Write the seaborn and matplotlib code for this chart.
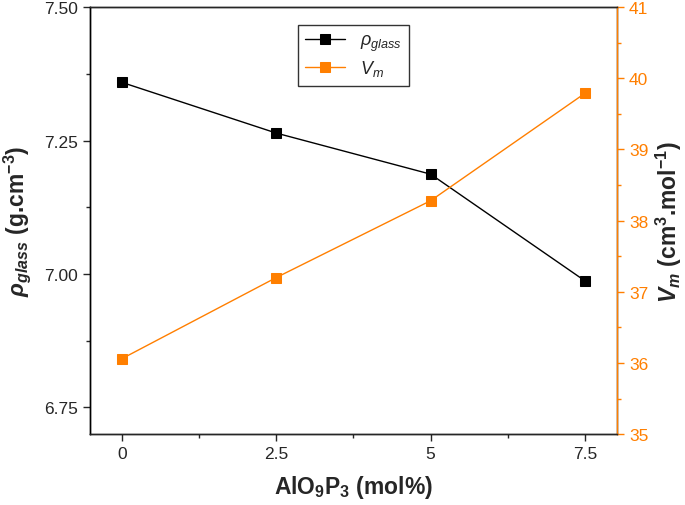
import matplotlib
matplotlib.use('Agg')
import matplotlib.pyplot as plt
import seaborn as sns
from matplotlib.ticker import MultipleLocator, FixedLocator, FormatStrFormatter

# Данные
al_mol = [0, 2.5, 5, 7.5]
rho_glass = [7.359, 7.264, 7.187, 6.987]
v_m = [36.06, 37.20, 38.28, 39.79]
x_ticks = [0, 2.5, 5, 7.5]
x_tick_labels = ['0', '2.5', '5', '7.5']

sns.set_style('ticks')
plt.rcParams['font.family'] = ['Liberation Sans', 'DejaVu Sans']
plt.rcParams['mathtext.fontset'] = 'custom'
plt.rcParams['mathtext.it'] = 'Liberation Sans:italic'
plt.rcParams['mathtext.rm'] = 'Liberation Sans'
plt.rcParams['mathtext.bf'] = 'Liberation Sans:bold'
plt.rcParams['mathtext.bfit'] = 'Liberation Sans:bold:italic'

orange = '#FF7F00'

fig, ax = plt.subplots(figsize=(6.85, 5.06), dpi=100)
fig.subplots_adjust(left=0.131, right=0.901, top=0.984, bottom=0.140)
ax2 = ax.twinx()

# Две серии на двух осях
sns.lineplot(x=al_mol, y=rho_glass, ax=ax, color='black', marker='s', markersize=7,
             markeredgecolor='black', linewidth=1, label=r'$\rho_{glass}$', legend=False)
sns.lineplot(x=al_mol, y=v_m, ax=ax2, color=orange, marker='s', markersize=7,
             markeredgecolor=orange, linewidth=1, label=r'$V_m$', legend=False)

ax.set_xlim(-0.52, 8.02)
ax.set_ylim(6.7, 7.5)
ax2.set_ylim(35, 41)

ax.xaxis.set_major_locator(FixedLocator(x_ticks))
ax.set_xticklabels(x_tick_labels)
ax.xaxis.set_minor_locator(MultipleLocator(1.25))
ax.yaxis.set_major_locator(MultipleLocator(0.25))
ax.yaxis.set_minor_locator(MultipleLocator(0.125))
ax.yaxis.set_major_formatter(FormatStrFormatter('%.2f'))
ax2.yaxis.set_major_locator(MultipleLocator(1))
ax2.yaxis.set_minor_locator(MultipleLocator(0.5))

ax.tick_params(axis='both', which='major', labelsize=12.5, length=5, width=1, direction='out')
ax.tick_params(axis='both', which='minor', length=3, width=1, direction='out')
ax2.tick_params(axis='y', which='major', labelsize=12.5, length=5, width=1,
                colors=orange, direction='out')
ax2.tick_params(axis='y', which='minor', length=3, width=1, colors=orange, direction='out')

for s in ax.spines.values():
    s.set_linewidth(1)
    s.set_color('black')
for s in ax2.spines.values():
    s.set_linewidth(1)
ax2.spines['right'].set_color(orange)
ax2.spines['left'].set_color('black')

ax.set_xlabel(r'AlO$_\mathbf{9}$P$_\mathbf{3}$ (mol%)', fontsize=16.5, fontweight='bold', labelpad=9)
ax.set_ylabel(r'$\mathbfit{\rho_{glass}}$ (g.cm$^\mathbf{-3}$)',
              fontsize=16.5, fontweight='bold', labelpad=8)
ax2.set_ylabel(r'$\mathbfit{V_m}$ (cm$^\mathbf{3}$.mol$^\mathbf{-1}$)', fontsize=16.5,
               fontweight='bold', labelpad=4)

h1, l1 = ax.get_legend_handles_labels()
h2, l2 = ax2.get_legend_handles_labels()
ax.legend(h1 + h2, l1 + l2, loc='upper center', bbox_to_anchor=(0.5, 0.98),
          fontsize=13, frameon=True, fancybox=False, edgecolor='black',
          handlelength=2.2, borderpad=0.4, labelspacing=0.3)

plt.savefig('out.png', dpi=100)
